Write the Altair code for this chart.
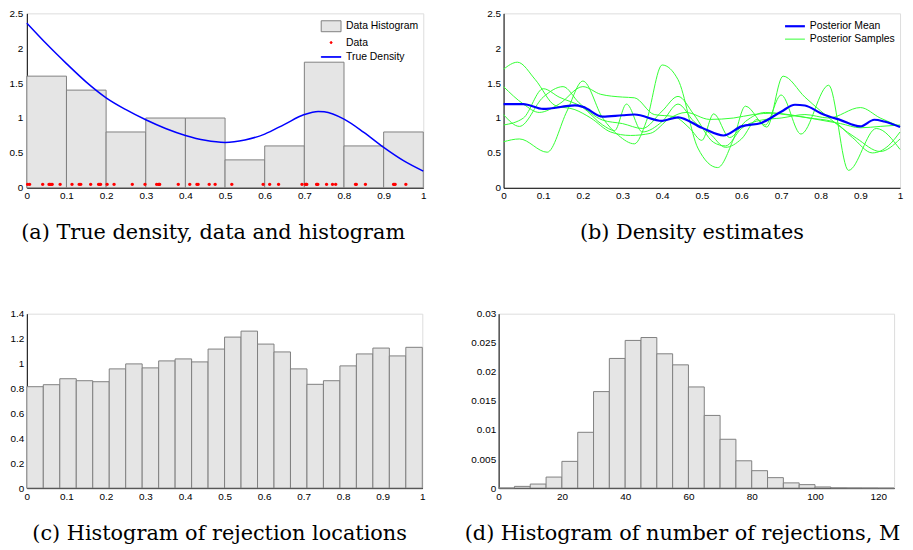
import altair as alt
import pandas as pd

FONT = "Liberation Sans"
SERIF = "DejaVu Serif"

# ---------------- (a) True density, data and histogram ----------------
HIST_A_EDGES = [0.0, 0.1, 0.2, 0.3, 0.4, 0.5, 0.6, 0.7, 0.8, 0.9, 1.0]
HIST_A_HEIGHTS = [1.6, 1.4, 0.8, 1.0, 1.0, 0.4, 0.6, 1.8, 0.6, 0.8]
DATA_X = [0.002, 0.007, 0.040, 0.056, 0.058, 0.061, 0.064, 0.084,
          0.114, 0.132, 0.136, 0.161, 0.181, 0.184, 0.186,
          0.2025, 0.220, 0.266, 0.298,
          0.3275, 0.332, 0.334, 0.335, 0.382,
          0.411, 0.429, 0.432, 0.460, 0.475,
          0.517, 0.596,
          0.6125, 0.635, 0.694,
          0.7025, 0.705, 0.706, 0.731, 0.732, 0.734, 0.756, 0.771, 0.779,
          0.829, 0.831, 0.854,
          0.925, 0.927, 0.929, 0.956]
DATA_Y = 0.05
TRUE_X = [0.0, 0.05, 0.1, 0.15, 0.2, 0.25, 0.3, 0.35, 0.4, 0.45, 0.5, 0.55,
          0.6, 0.65, 0.7, 0.735, 0.75, 0.8, 0.85, 0.9, 0.95, 1.0]
TRUE_Y = [2.36, 2.06, 1.78, 1.515, 1.29, 1.12, 0.975, 0.85, 0.75, 0.68, 0.65, 0.685,
          0.77, 0.91, 1.05, 1.095, 1.09, 0.985, 0.795, 0.58, 0.39, 0.24]

# ---------------- (b) Density estimates ----------------
MEAN_X = [0.0, 0.05, 0.1, 0.18, 0.2, 0.25, 0.3, 0.33, 0.4, 0.44, 0.5, 0.555, 0.6,
          0.65, 0.7, 0.735, 0.76, 0.8, 0.85, 0.9, 0.935, 0.96, 1.0]
MEAN_Y = [1.2, 1.2, 1.13, 1.18, 1.16, 1.02, 1.04, 1.05, 0.96, 1.01, 0.86, 0.75, 0.88,
          0.93, 1.09, 1.19, 1.18, 1.07, 0.97, 0.88, 0.975, 0.95, 0.87]
S1_X = [0, 0.035, 0.08, 0.13, 0.18, 0.22, 0.27, 0.32, 0.37, 0.42, 0.46, 0.52, 0.58,
        0.63, 0.68, 0.73, 0.8, 0.85, 0.9, 0.95, 1.0]
S1_Y = [1.70, 1.80, 1.55, 1.18, 1.12, 1.0, 0.8, 0.75, 0.78, 1.0, 1.08, 0.98, 1.0,
        1.05, 1.07, 1.04, 0.97, 0.92, 0.86, 0.88, 0.9]
S2_X = [0, 0.05, 0.09, 0.14, 0.2, 0.245, 0.3, 0.33, 0.38, 0.43, 0.47, 0.5, 0.53,
        0.57, 0.61, 0.66, 0.71, 0.77, 0.83, 0.88, 0.93, 0.97, 1.0]
S2_Y = [1.45, 1.2, 1.08, 1.2, 1.45, 1.34, 1.3, 1.29, 1.05, 1.02, 0.85, 0.68, 1.06,
        0.72, 0.95, 1.08, 1.05, 1.0, 0.95, 0.72, 0.5, 0.6, 0.8]
S3_X = [0, 0.04, 0.1, 0.15, 0.19, 0.25, 0.3, 0.35, 0.4, 0.44, 0.48, 0.53, 0.56,
        0.6, 0.65, 0.7, 0.76, 0.82, 0.9, 0.95, 1.0]
S3_Y = [1.05, 0.88, 1.3, 1.45, 1.22, 0.97, 0.92, 0.85, 1.1, 1.31, 1.05, 0.65, 0.6,
        0.85, 0.97, 1.0, 1.05, 1.0, 1.15, 1.0, 0.88]
S4_X = [0, 0.05, 0.1, 0.14, 0.2, 0.25, 0.28, 0.31, 0.35, 0.4, 0.44, 0.48, 0.52,
        0.56, 0.6, 0.64, 0.66, 0.7, 0.75, 0.82, 0.87, 0.94, 1.0]
S4_Y = [0.9, 1.0, 1.42, 1.3, 1.15, 0.9, 0.82, 1.2, 0.8, 0.95, 1.2, 0.95, 0.78,
        0.58, 0.7, 0.98, 0.9, 1.33, 0.77, 1.47, 0.25, 0.85, 0.55]
S5_X = [0, 0.04, 0.11, 0.16, 0.2, 0.25, 0.29, 0.33, 0.36, 0.4, 0.44, 0.49, 0.54,
        0.58, 0.61, 0.664, 0.705, 0.76, 0.8, 0.89, 0.95, 1.0]
S5_Y = [0.66, 0.7, 0.51, 1.1, 1.53, 1.0, 0.75, 0.63, 0.95, 1.76, 1.55, 0.57, 0.29,
        0.7, 1.17, 0.87, 1.6, 1.3, 1.1, 0.71, 0.52, 0.7]

# ---------------- (c) Histogram of rejection locations ----------------
HIST_C_EDGES = [i / 24 for i in range(25)]
HIST_C_HEIGHTS = [0.814, 0.83, 0.878, 0.862, 0.854, 0.957, 0.997, 0.965, 1.021, 1.037,
                  1.013, 1.116, 1.212, 1.26, 1.156, 1.093, 0.957, 0.833, 0.862, 0.981,
                  1.077, 1.124, 1.061, 1.13]

# ---------------- (d) Histogram of number of rejections ----------------
HIST_D_EDGES = [0, 5, 10, 15, 20, 25, 30, 35, 40, 45, 50, 55, 60, 65, 70, 75, 80,
                85, 90, 95, 100, 105, 110, 115, 120, 125]
HIST_D_HEIGHTS = [0.00002, 0.0003, 0.0007, 0.0019, 0.0046, 0.0096, 0.0166, 0.0223,
                  0.0254, 0.0259, 0.0231, 0.0212, 0.0174, 0.0125, 0.0084, 0.0047,
                  0.003, 0.0018, 0.0009, 0.0006, 0.0002, 0.00005, 0.00003, 0.00002, 0.0]

X_TICKS_01 = [0, 0.1, 0.2, 0.3, 0.4, 0.5, 0.6, 0.7, 0.8, 0.9, 1]
Y_TICKS_AB = [0, 0.5, 1, 1.5, 2, 2.5]
Y_TICKS_C = [0, 0.2, 0.4, 0.6, 0.8, 1, 1.2, 1.4]
X_TICKS_D = [0, 20, 40, 60, 80, 100, 120]
Y_TICKS_D = [0, 0.005, 0.01, 0.015, 0.02, 0.025, 0.03]

BAR_FILL = "#e5e5e5"
BAR_STROKE = "#808080"
GREEN = "#33ff33"
W, H = 400, 176


def axis(values, pad=3):
    return alt.Axis(values=values, format="~r", grid=False, ticks=False, labelPadding=pad,
                    labelFont=FONT, labelFontSize=10, labelColor="black", labelOverlap=False,
                    domainColor="black", domainWidth=1, title=None, labelFlush=False)


def caption(text, dx):
    return alt.Title(text, orient="bottom", font=SERIF, fontSize=21, fontWeight="normal",
                     color="black", offset=22, dx=dx, frame="group", anchor="middle")


def legend(**kw):
    base = dict(title=None, orient="top-right", offset=5, padding=0,
                labelFont=FONT, labelFontSize=10.5, labelColor="black",
                symbolStrokeWidth=1, symbolOpacity=1)
    base.update(kw)
    return alt.Legend(**base)


# ---- panel a
hist_a = pd.DataFrame({"x0": HIST_A_EDGES[:-1], "x1": HIST_A_EDGES[1:],
                       "h": HIST_A_HEIGHTS, "b": 0.0, "sa": "Data Histogram"})
pts_a = pd.DataFrame({"x": DATA_X, "y": [DATA_Y] * len(DATA_X), "sa": "Data"})
dens_a = pd.DataFrame({"x": TRUE_X, "y": TRUE_Y, "sa": "True Density"})

DOM_A = ["Data Histogram", "Data", "True Density"]
# legend symbols are drawn at size 200 -> 7.07 px per path unit
RECT = "M-1.414,-0.78H1.414V0.78H-1.414Z"
DOT = "M-0.14,0A0.14,0.14,0,1,1,0.14,0A0.14,0.14,0,1,1,-0.14,0Z"
LINE = "M-1.414,-0.04H1.414V0.04H-1.414Z"

leg_a = legend(symbolSize=200, rowPadding=0.5, labelOffset=7)
color_a = alt.Color("sa:N", scale=alt.Scale(domain=DOM_A, range=[BAR_FILL, "#ff0000", "#0000ff"]),
                    legend=leg_a)
stroke_a = alt.Stroke("sa:N", scale=alt.Scale(domain=DOM_A, range=[BAR_STROKE, "#ff0000", "#0000ff"]),
                      legend=leg_a)
shape_a = alt.Shape("sa:N", scale=alt.Scale(domain=DOM_A, range=[RECT, DOT, LINE]), legend=leg_a)

xa = alt.Scale(domain=[0, 1], nice=False)
ya = alt.Scale(domain=[0, 2.5], nice=False)
XA_AX = axis(X_TICKS_01)
YA_AX = axis(Y_TICKS_AB, pad=4)

bars_a = alt.Chart(hist_a).mark_bar(strokeWidth=1).encode(
    x=alt.X("x0:Q", scale=xa, axis=XA_AX),
    x2="x1:Q",
    y=alt.Y("h:Q", scale=ya, axis=YA_AX),
    y2="b:Q",
    color=color_a, stroke=stroke_a)
pts_layer = alt.Chart(pts_a).mark_point(filled=True, size=590, opacity=1, strokeWidth=0).encode(
    x=alt.X("x:Q", scale=xa, axis=XA_AX), y=alt.Y("y:Q", scale=ya, axis=YA_AX),
    color=color_a, stroke=stroke_a, shape=shape_a)
dens_layer = alt.Chart(dens_a).mark_line(strokeWidth=1.5, interpolate="monotone").encode(
    x=alt.X("x:Q", scale=xa, axis=XA_AX), y=alt.Y("y:Q", scale=ya, axis=YA_AX),
    stroke=stroke_a)

panel_a = alt.layer(bars_a, pts_layer, dens_layer).properties(
    width=W, height=H, title=caption("(a) True density, data and histogram", -12))

# ---- panel b
DOM_B = ["Posterior Mean", "Posterior Samples"]
frames = []
for k, (sx, sy) in enumerate([(S1_X, S1_Y), (S2_X, S2_Y), (S3_X, S3_Y), (S4_X, S4_Y), (S5_X, S5_Y)]):
    frames.append(pd.DataFrame({"x": sx, "y": sy, "sb": "Posterior Samples", "k": f"s{k}"}))
samples_b = pd.concat(frames, ignore_index=True)
mean_b = pd.DataFrame({"x": MEAN_X, "y": MEAN_Y, "sb": "Posterior Mean", "k": "m"})

leg_b = legend(symbolSize=169, symbolType="M-1.54,0H1.54", rowPadding=0, labelOffset=7)
color_b = alt.Color("sb:N", scale=alt.Scale(domain=DOM_B, range=["#0000ff", GREEN]), legend=leg_b)
sw_b = alt.StrokeWidth("sb:N", scale=alt.Scale(domain=DOM_B, range=[2.2, 1.0]), legend=leg_b)
XB_AX = axis(X_TICKS_01)
YB_AX = axis(Y_TICKS_AB)

samp_layer = alt.Chart(samples_b).mark_line(interpolate="monotone").encode(
    x=alt.X("x:Q", scale=xa, axis=XB_AX),
    y=alt.Y("y:Q", scale=ya, axis=YB_AX),
    color=color_b, strokeWidth=sw_b, detail="k:N")
mean_layer = alt.Chart(mean_b).mark_line(interpolate="monotone").encode(
    x=alt.X("x:Q", scale=xa, axis=XB_AX),
    y=alt.Y("y:Q", scale=ya, axis=YB_AX),
    color=color_b, strokeWidth=sw_b, detail="k:N")
panel_b = alt.layer(samp_layer, mean_layer).properties(
    width=W, height=H, title=caption("(b) Density estimates", -10))

# ---- panel c
hist_c = pd.DataFrame({"x0": HIST_C_EDGES[:-1], "x1": HIST_C_EDGES[1:], "h": HIST_C_HEIGHTS, "b": 0.0})
panel_c = alt.Chart(hist_c).mark_bar(fill=BAR_FILL, stroke=BAR_STROKE, strokeWidth=1).encode(
    x=alt.X("x0:Q", scale=xa, axis=axis(X_TICKS_01)),
    x2="x1:Q",
    y=alt.Y("h:Q", scale=alt.Scale(domain=[0, 1.4], nice=False), axis=axis(Y_TICKS_C, pad=3)),
    y2="b:Q",
).properties(width=399, height=H, title=caption("(c) Histogram of rejection locations", -5))

# ---- panel d
hist_d = pd.DataFrame({"x0": HIST_D_EDGES[:-1], "x1": HIST_D_EDGES[1:], "h": HIST_D_HEIGHTS, "b": 0.0})
panel_d = alt.Chart(hist_d).mark_bar(fill=BAR_FILL, stroke=BAR_STROKE, strokeWidth=1).encode(
    x=alt.X("x0:Q", scale=alt.Scale(domain=[0, 125], nice=False), axis=axis(X_TICKS_D)),
    x2="x1:Q",
    y=alt.Y("h:Q", scale=alt.Scale(domain=[0, 0.03], nice=False), axis=axis(Y_TICKS_D)),
    y2="b:Q",
).properties(width=399, height=H, title=caption("(d) Histogram of number of rejections, M", -14))

indep = dict(color="independent", stroke="independent", shape="independent",
             strokeWidth="independent")
row1 = alt.hconcat(panel_a, panel_b, spacing=81, bounds="flush").resolve_scale(**indep)
row2 = alt.hconcat(panel_c, panel_d, spacing=77, bounds="flush")

chart = alt.vconcat(row1, row2, spacing=64).resolve_scale(**indep).properties(
    padding={"left": 0, "top": -3, "right": 0, "bottom": 0}
).configure_view(stroke=None).configure(font=FONT, background="white")

chart.save("out.html", embed_options={"renderer": "svg", "actions": False})
